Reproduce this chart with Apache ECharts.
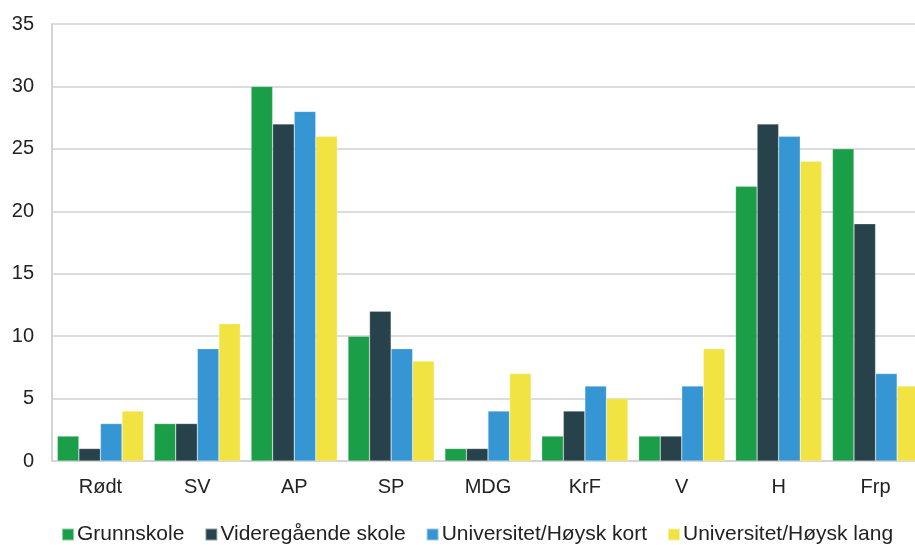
<!DOCTYPE html>
<html><head><meta charset="utf-8">
<script src="https://cdn.jsdelivr.net/npm/echarts@6/dist/echarts.min.js"></script>
<style>html,body{margin:0;padding:0;background:#fff}#c{width:915px;height:545px}</style>
</head><body><div id="c"></div>
<script>
var categories = ['Rødt','SV','AP','SP','MDG','KrF','V','H','Frp'];
var seriesNames = ['Grunnskole','Videregående skole','Universitet/Høysk kort','Universitet/Høysk lang'];
var grunnskole = [2,3,30,10,1,2,2,22,25];
var videregaende = [1,3,27,12,1,4,2,27,19];
var uniKort = [3,9,28,9,4,6,6,26,7];
var uniLang = [4,11,26,8,7,5,9,24,6];
var yTicks = {min:0, max:35, interval:5};
var colors = ['#1b9e48','#27424a','#3596d3','#f0e342'];
var values = [grunnskole, videregaende, uniKort, uniLang];

var chart = echarts.init(document.getElementById('c'));
chart.setOption({
  animation:false,
  color: colors,
  textStyle:{fontFamily:'Liberation Sans, Arial, sans-serif'},
  grid:{left:52, width:872, top:24, height:437, outerBoundsMode:'none'},
  legend:{
    top:519, left:56, itemWidth:12, itemHeight:12, itemGap:20,
    icon:'rect',
    textStyle:{fontSize:21, color:'#222', padding:[0,0,0,-2]},
    data: seriesNames
  },
  xAxis:{
    type:'category', data:categories,
    axisLine:{lineStyle:{color:'#d4d4d4', width:2}},
    axisTick:{show:false},
    axisLabel:{fontSize:20, color:'#222', margin:16}
  },
  yAxis:{
    type:'value', min:yTicks.min, max:yTicks.max, interval:yTicks.interval,
    axisLine:{show:true, lineStyle:{color:'#d4d4d4', width:2}},
    axisTick:{show:false},
    axisLabel:{fontSize:20, color:'#222', margin:18},
    splitLine:{lineStyle:{color:'#dcdcdc', width:2}}
  },
  series: seriesNames.map(function(n,i){
    return {name:n, type:'bar', data:values[i], barGap:'0%', barCategoryGap:'11%',
      itemStyle:{borderColor:'rgba(255,255,255,0.5)', borderWidth:0.5}};
  })
});
</script></body></html>
